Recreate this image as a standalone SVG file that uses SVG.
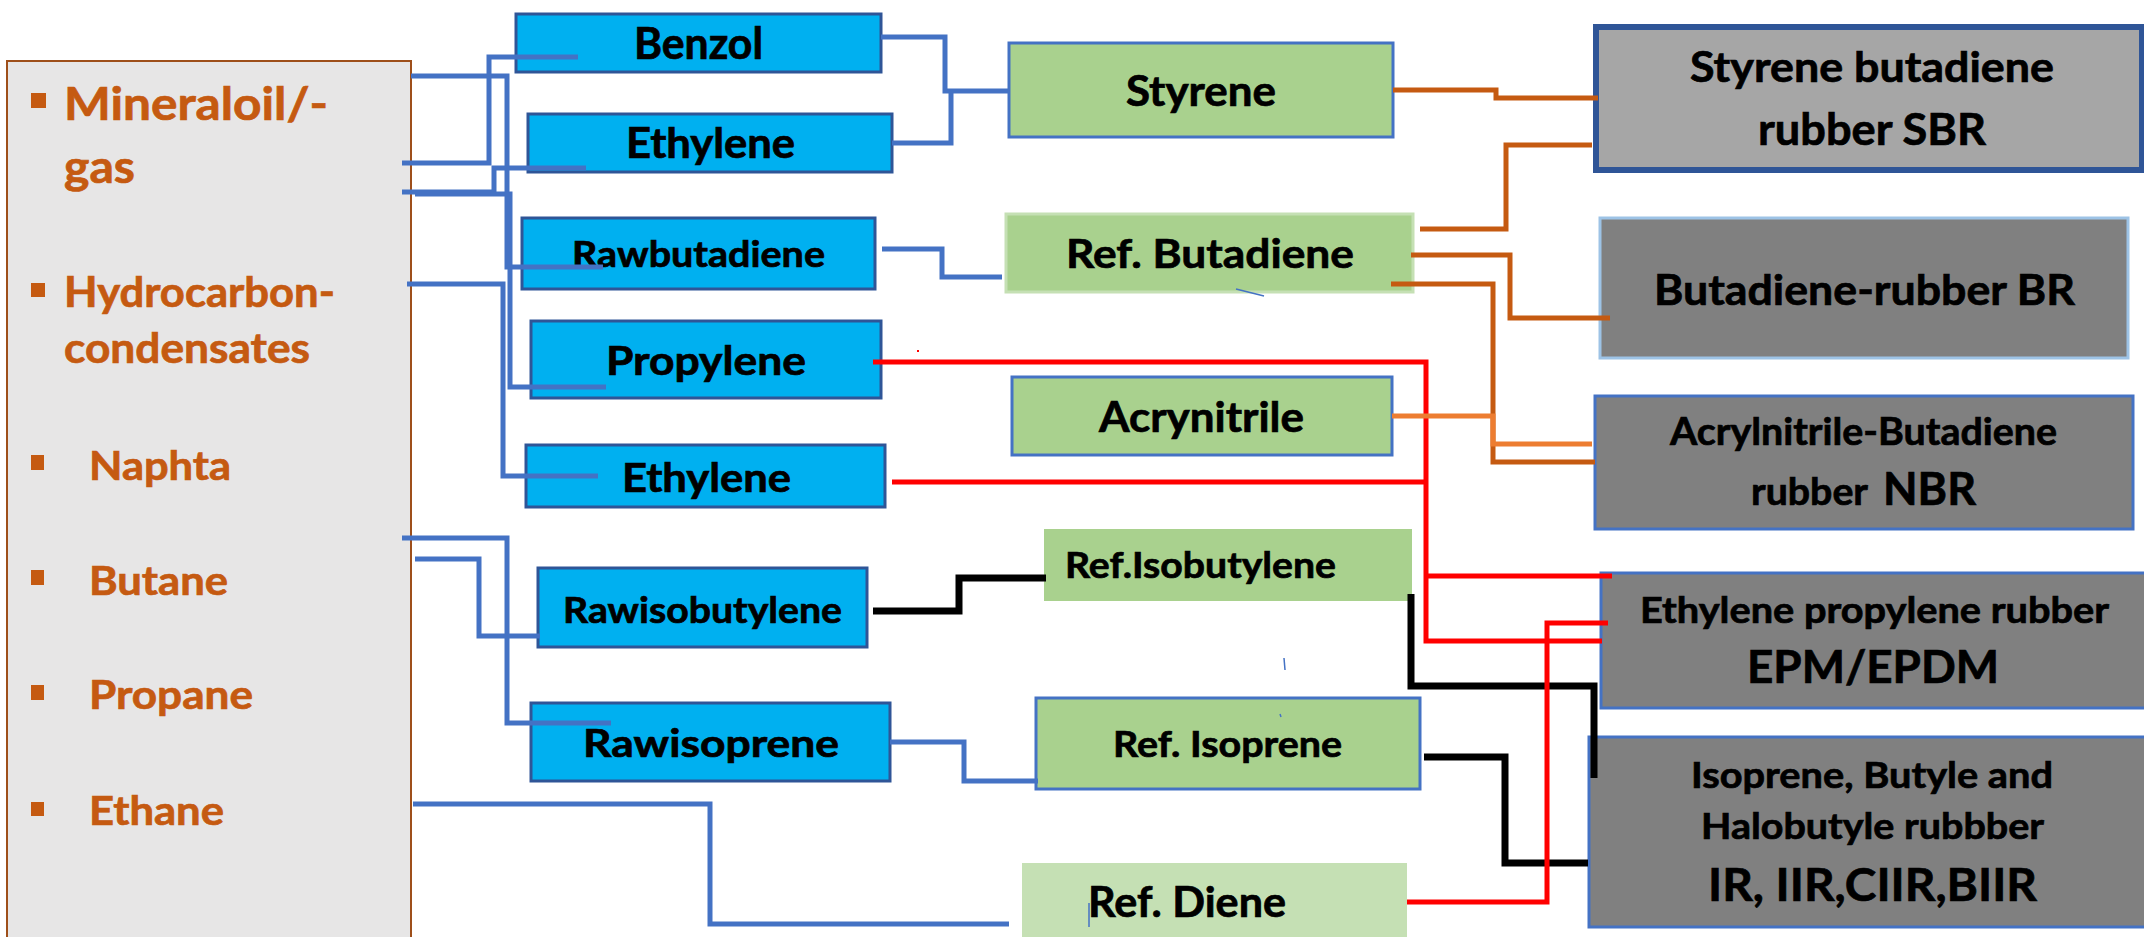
<svg xmlns="http://www.w3.org/2000/svg" width="2144" height="937" viewBox="0 0 2144 937">
<style>
text{font-family:Lato,"Open Sans","Liberation Sans",sans-serif;font-weight:bold;fill:#000;stroke:#000;stroke-width:0.7}
text.src{fill:#c55a11;stroke:#c55a11}
.blue rect{fill:#00b0f0;stroke:#2f5597;stroke-width:3}
.green rect{fill:#a9d18e;stroke:#4472c4;stroke-width:3}
.gray rect{fill:#808080;stroke:#4472c4;stroke-width:3}
.c{fill:none;stroke-linejoin:miter;stroke-linecap:butt}
.cb{stroke:#4472c4;stroke-width:5}
.cr{stroke:#ff0000;stroke-width:5}
.ck{stroke:#000;stroke-width:7}
.co{stroke:#c55a11;stroke-width:5}
.cl{stroke:#ed7d31;stroke-width:5}
</style>
<rect x="0" y="0" width="2144" height="937" fill="#fff"/>
<g id="sources">
<rect x="7" y="61" width="404" height="890" fill="#e7e6e6" stroke="#9e4f1a" stroke-width="2"/>
<rect x="31" y="93" width="15" height="15" fill="#c55a11"/>
<text class="src" x="64" y="120" font-size="46" textLength="264" lengthAdjust="spacingAndGlyphs">Mineraloil/-</text>
<text class="src" x="64" y="183" font-size="46" textLength="71" lengthAdjust="spacingAndGlyphs">gas</text>
<rect x="31" y="283" width="14" height="14" fill="#c55a11"/>
<text class="src" x="64" y="307" font-size="42" textLength="271" lengthAdjust="spacingAndGlyphs">Hydrocarbon-</text>
<text class="src" x="64" y="363" font-size="42" textLength="246" lengthAdjust="spacingAndGlyphs">condensates</text>
<rect x="31" y="455" width="13" height="15" fill="#c55a11"/>
<text class="src" x="89" y="480" font-size="41" textLength="142" lengthAdjust="spacingAndGlyphs">Naphta</text>
<rect x="31" y="570" width="13" height="15" fill="#c55a11"/>
<text class="src" x="89" y="595" font-size="41" textLength="139" lengthAdjust="spacingAndGlyphs">Butane</text>
<rect x="31" y="685" width="13" height="15" fill="#c55a11"/>
<text class="src" x="89" y="709" font-size="41" textLength="164" lengthAdjust="spacingAndGlyphs">Propane</text>
<rect x="31" y="802" width="13" height="14" fill="#c55a11"/>
<text class="src" x="89" y="825" font-size="41" textLength="135" lengthAdjust="spacingAndGlyphs">Ethane</text>
</g>
<g id="benzol" class="blue"><rect x="516" y="14" width="365" height="58"/><text x="634" y="59" font-size="43" textLength="129" lengthAdjust="spacingAndGlyphs">Benzol</text></g>
<g id="ethylene1" class="blue"><rect x="528" y="114" width="364" height="58"/><text x="626" y="158" font-size="42" textLength="169" lengthAdjust="spacingAndGlyphs">Ethylene</text></g>
<g id="rawbutadiene" class="blue"><rect x="522" y="218" width="353" height="71"/><text x="572" y="267" font-size="36" textLength="253" lengthAdjust="spacingAndGlyphs">Rawbutadiene</text></g>
<g id="propylene" class="blue"><rect x="531" y="321" width="350" height="77"/><text x="606" y="375" font-size="41" textLength="200" lengthAdjust="spacingAndGlyphs">Propylene</text></g>
<g id="ethylene2" class="blue"><rect x="526" y="445" width="359" height="62"/><text x="622" y="492" font-size="41" textLength="169" lengthAdjust="spacingAndGlyphs">Ethylene</text></g>
<g id="rawisobutylene" class="blue"><rect x="538" y="568" width="329" height="79"/><text x="563" y="623" font-size="37" textLength="279" lengthAdjust="spacingAndGlyphs">Rawisobutylene</text></g>
<g id="rawisoprene" class="blue"><rect x="531" y="703" width="359" height="78"/><text x="583" y="757" font-size="39" textLength="256" lengthAdjust="spacingAndGlyphs">Rawisoprene</text></g>
<g id="styrene" class="green"><rect x="1009" y="43" width="384" height="94"/><text x="1126" y="106" font-size="42" textLength="150" lengthAdjust="spacingAndGlyphs">Styrene</text></g>
<g id="refbutadiene" class="green"><rect x="1006" y="214" width="407" height="78" style="stroke:#c5e0b4"/><text x="1066" y="268" font-size="41" textLength="288" lengthAdjust="spacingAndGlyphs">Ref. Butadiene</text></g>
<g id="acrynitrile" class="green"><rect x="1012" y="377" width="380" height="78"/><text x="1099" y="432" font-size="42" textLength="205" lengthAdjust="spacingAndGlyphs">Acrynitrile</text></g>
<g id="refisobutylene" class="green"><rect x="1044" y="529" width="368" height="72" style="stroke:none"/><text x="1065" y="578" font-size="36" textLength="271" lengthAdjust="spacingAndGlyphs">Ref.Isobutylene</text></g>
<g id="refisoprene" class="green"><rect x="1036" y="698" width="384" height="91"/><text x="1113" y="757" font-size="36" textLength="229" lengthAdjust="spacingAndGlyphs">Ref. Isoprene</text></g>
<g id="refdiene" class="green"><rect x="1022" y="863" width="385" height="80" style="fill:#c5e0b4;stroke:none"/><text x="1088" y="917" font-size="42" textLength="198" lengthAdjust="spacingAndGlyphs">Ref. Diene</text></g>
<g id="sbr" class="gray"><rect x="1596" y="27" width="546" height="143" style="fill:#a6a6a6;stroke:#2f5597;stroke-width:6"/><text x="1690" y="82" font-size="42" textLength="364" lengthAdjust="spacingAndGlyphs">Styrene butadiene</text><text x="1758" y="145" font-size="44" textLength="228" lengthAdjust="spacingAndGlyphs">rubber SBR</text></g>
<g id="br" class="gray"><rect x="1600" y="218" width="528" height="140" style="stroke:#9dc3e6"/><text x="1654" y="305" font-size="42" textLength="421" lengthAdjust="spacingAndGlyphs">Butadiene-rubber BR</text></g>
<g id="nbr" class="gray"><rect x="1595" y="396" width="538" height="133"/><text x="1670" y="445" font-size="38" textLength="387" lengthAdjust="spacingAndGlyphs">Acrylnitrile-Butadiene</text><text x="1751" y="505" font-size="38" textLength="117" lengthAdjust="spacingAndGlyphs">rubber</text><text x="1883" y="505" font-size="46" textLength="93" lengthAdjust="spacingAndGlyphs">NBR</text></g>
<g id="epm" class="gray"><rect x="1601" y="573" width="550" height="135"/><text x="1640" y="623" font-size="37" textLength="469" lengthAdjust="spacingAndGlyphs">Ethylene propylene rubber</text><text x="1747" y="683" font-size="45" textLength="252" lengthAdjust="spacingAndGlyphs">EPM/EPDM</text></g>
<g id="ir" class="gray"><rect x="1589" y="737" width="560" height="190"/><text x="1691" y="788" font-size="36" textLength="362" lengthAdjust="spacingAndGlyphs">Isoprene, Butyle and</text><text x="1701" y="839" font-size="36" textLength="343" lengthAdjust="spacingAndGlyphs">Halobutyle rubbber</text><text x="1708" y="901" font-size="46" textLength="329" lengthAdjust="spacingAndGlyphs">IR, IIR,CIIR,BIIR</text></g>
<g id="connectors">
<path class="c cb" d="M402,163 H489 V57 H578"/>
<path class="c cb" d="M411,76 H507 V267 H603"/>
<path class="c cb" d="M402,192 H494 V168 H586"/>
<path class="c cb" d="M415,194 H510 V387 H606"/>
<path class="c cb" d="M407,284 H503 V476 H598"/>
<path class="c cb" d="M402,538 H507 V723 H611"/>
<path class="c cb" d="M415,559 H479 V636 H540"/>
<path class="c cb" d="M413,804 H710 V924 H1009"/>
<path class="c cb" d="M881,37 H945 V91 H1009"/>
<path class="c cb" d="M892,143 H951 V91"/>
<path class="c cb" d="M882,249 H942 V277 H1002"/>
<path class="c cb" d="M890,742 H964 V781 H1038"/>
<path class="c ck" d="M873,611 H959 V578 H1046"/>
<path class="c ck" d="M1411,594 V686 H1594 V778"/>
<path class="c ck" d="M1424,757 H1505 V863 H1588"/>
<path class="c cr" d="M873,362 H1426 V641 H1602"/>
<path class="c cr" d="M892,482 H1425"/>
<path class="c cr" d="M1427,576 H1612"/>
<path class="c cr" d="M1407,902 H1547 V623 H1608"/>
<path class="c co" d="M1393,90 H1496 V98 H1598"/>
<path class="c co" d="M1420,229 H1506 V145 H1592"/>
<path class="c co" d="M1411,255 H1510 V318 H1610"/>
<path class="c co" d="M1391,284 H1493 V462 H1595"/>
<path class="c cl" d="M1392,416 H1493 V444 H1592"/>
<path class="c" d="M1236,289 L1264,296" stroke="#4472c4" stroke-width="1.5"/>
<path class="c" d="M1284,658 L1285,670" stroke="#4472c4" stroke-width="1.5"/>
<path class="c" d="M1280,714 L1281,717" stroke="#4472c4" stroke-width="1.5"/>
<path class="c" d="M1089,903 V927" stroke="#4472c4" stroke-width="1.5"/>
<rect x="917" y="350" width="2" height="2" fill="#ff0000"/>
</g>
</svg>
